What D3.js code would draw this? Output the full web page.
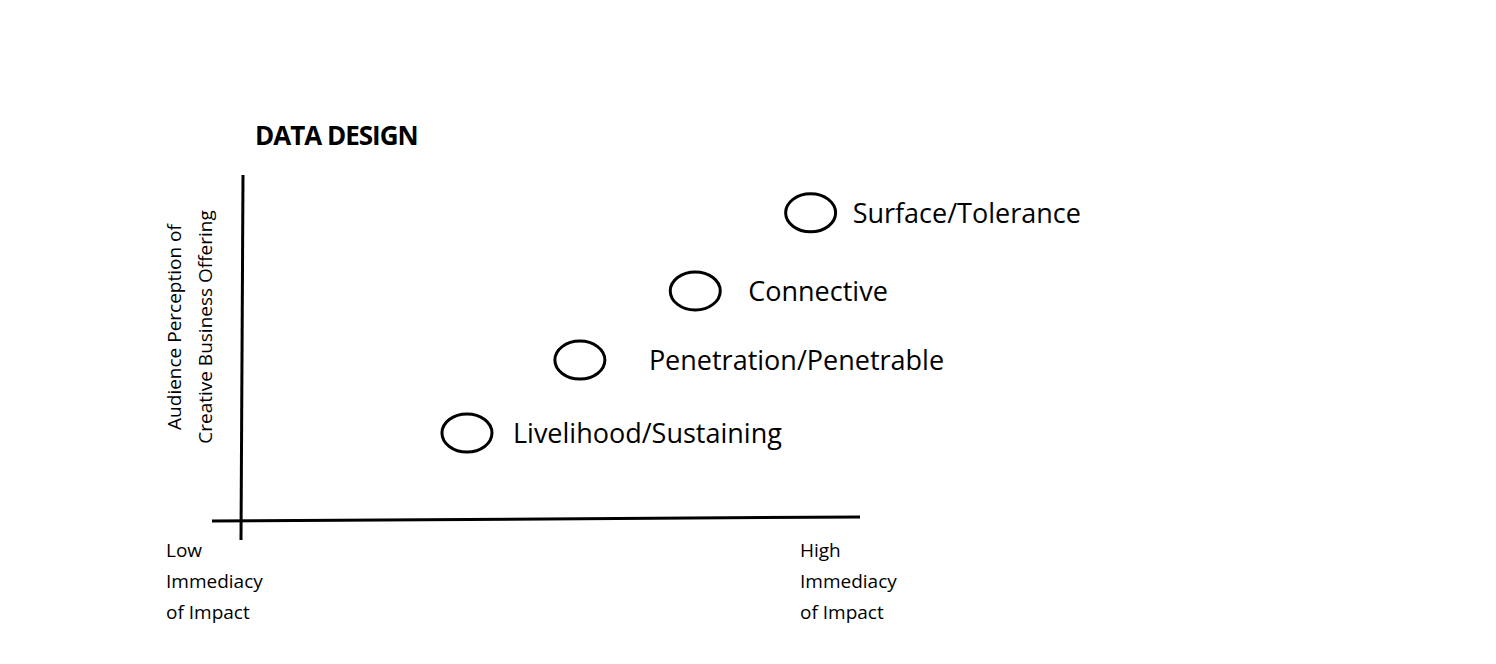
<!DOCTYPE html>
<html>
<head>
<meta charset="utf-8">
<script src="https://cdn.jsdelivr.net/npm/d3@7"></script>
<style>
  body { margin: 0; background: #fff; }
  text { font-family: "Open Sans", "Noto Sans", sans-serif; fill: #000; }
</style>
</head>
<body>
<svg id="chart" width="1496" height="664"></svg>
<script>
// stages along the curve
const stages = ['Livelihood/Sustaining', 'Penetration/Penetrable', 'Connective', 'Surface/Tolerance'];
const immediacy = [3.63, 5.46, 7.33, 9.2];
const perception = [2.5, 4.62, 6.63, 8.9];
const labelGap = [46, 69, 53, 42];

const svg = d3.select('#chart');

const x = d3.scaleLinear().domain([0, 10]).range([243, 860]);
const y = d3.scaleLinear().domain([0, 10]).range([519, 175]);

// axes (plain lines, no ticks)
svg.append('line')
    .attr('x1', x(0)).attr('x2', x(0) - 2)
    .attr('y1', y(10)).attr('y2', 540)
    .attr('stroke', '#000').attr('stroke-width', 3);
svg.append('line')
    .attr('x1', 212).attr('x2', x(10))
    .attr('y1', 521).attr('y2', 517)
    .attr('stroke', '#000').attr('stroke-width', 3);

svg.append('text')
    .attr('x', 255).attr('y', 145)
    .style('font-size', '26px').style('font-weight', 'bold').style('letter-spacing', '-1px')
    .text('DATA DESIGN');

const data = stages.map((s, i) => ({ name: s, x: immediacy[i], y: perception[i], gap: labelGap[i] }));

const g = svg.selectAll('g.stage').data(data).enter().append('g').attr('class', 'stage');
g.append('ellipse')
    .attr('cx', d => x(d.x)).attr('cy', d => y(d.y))
    .attr('rx', 25).attr('ry', 19)
    .attr('fill', 'none').attr('stroke', '#000').attr('stroke-width', 3);
g.append('text')
    .attr('x', d => x(d.x) + d.gap).attr('y', d => y(d.y) + 10)
    .style('font-size', '27px')
    .text(d => d.name);

// y axis title
const yt = svg.append('text')
    .attr('transform', 'translate(0,327) rotate(-90)')
    .attr('text-anchor', 'middle')
    .style('font-size', '19px');
yt.append('tspan').attr('x', 0).attr('y', 181).text('Audience Perception of');
yt.append('tspan').attr('x', 0).attr('y', 212).text('Creative Business Offering');

// x axis end labels
const ends = [{ x: 166, word: 'Low' }, { x: 800, word: 'High' }];
ends.forEach(e => {
    const t = svg.append('text').style('font-size', '19px');
    [e.word, 'Immediacy', 'of Impact'].forEach((line, i) => {
        t.append('tspan').attr('x', e.x).attr('y', 557 + i * 31).text(line);
    });
});
</script>
</body>
</html>
